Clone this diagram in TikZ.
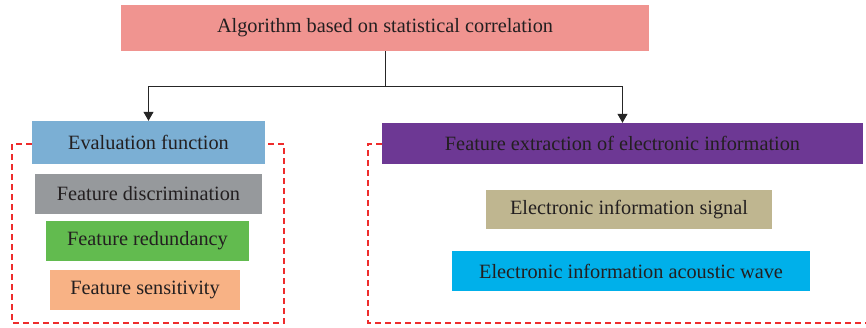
\documentclass[tikz,border=0pt]{standalone}
\usepackage{fontspec}
\setmainfont{Liberation Serif}
\usetikzlibrary{arrows.meta}
\definecolor{txt}{HTML}{231F20}
\definecolor{cpink}{HTML}{F09490}
\definecolor{cblue}{HTML}{7BAFD4}
\definecolor{cgray}{HTML}{96999C}
\definecolor{cgreen}{HTML}{62BB4F}
\definecolor{corange}{HTML}{F8B285}
\definecolor{cpurple}{HTML}{6D3894}
\definecolor{ctan}{HTML}{BFB690}
\definecolor{ccyan}{HTML}{00B0EA}
\definecolor{cred}{HTML}{EE2C2C}
\begin{document}
\begin{tikzpicture}[x=1pt,y=-1pt,
  box/.style={draw=none,inner sep=0pt,text=txt,font=\fontsize{20.3}{24}\selectfont},
  conn/.style={draw=black!85,line width=1pt,-{Triangle[width=10pt,length=9pt]}},
  grp/.style={draw=cred,line width=1.1pt,dash pattern=on 6pt off 4pt}]
\useasboundingbox (0,0) rectangle (866,328);
\node[box,fill=cpink,minimum width=528pt,minimum height=46pt] (top) at (385,28) {Algorithm based on statistical correlation};
\node[box,fill=cblue,minimum width=233pt,minimum height=43pt] (eval) at (148.5,142.5) {Evaluation function};
\node[box,fill=cgray,minimum width=227pt,minimum height=40pt] (disc) at (148.5,194) {Feature discrimination};
\node[box,fill=cgreen,minimum width=203pt,minimum height=40pt] (red) at (147.5,241) {Feature redundancy};
\node[box,fill=corange,minimum width=190pt,minimum height=40pt] (sens) at (145,290) {Feature sensitivity};
\node[box,fill=cpurple,minimum width=481pt,minimum height=41pt] (extr) at (622.5,143.5) {Feature extraction of electronic information};
\node[box,fill=ctan,minimum width=286pt,minimum height=39pt] (sig) at (629,209.5) {Electronic information signal};
\node[box,fill=ccyan,minimum width=358pt,minimum height=40pt] (wave) at (631,271) {Electronic information acoustic wave};
\coordinate (split) at (385,87);
\draw[line width=1pt,draw=black!85] (top.south) -- (split);
\draw[conn] (split) -| (eval.north);
\draw[conn] (split) -| (extr.north);
\coordinate (l1) at (12,144);
\coordinate (l2) at (12,323);
\coordinate (l3) at (284,323);
\coordinate (l4) at (284,144);
\draw[grp] (eval.west |- l1) -- (l1) -- (l2) -- (l3) -- (l4) -- (eval.east |- l4);
\coordinate (r1) at (368,144);
\coordinate (r2) at (368,323);
\coordinate (r3) at (866,323);
\draw[grp] (extr.west |- r1) -- (r1) -- (r2) -- (r3);
\end{tikzpicture}
\end{document}
